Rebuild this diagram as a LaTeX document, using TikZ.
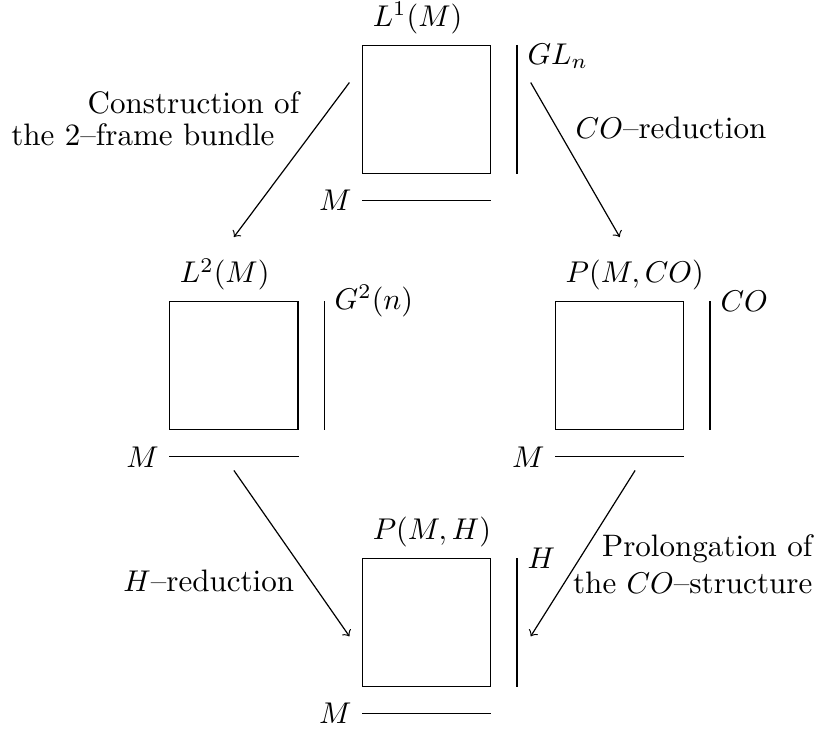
\documentclass[tikz,border=0pt]{standalone}
\usepackage{amsmath}
\usepackage{tikz}
\usetikzlibrary{positioning,calc}

\begin{document}
\begin{tikzpicture}[
  font=\fontsize{10.35pt}{12.4pt}\selectfont,
  >=to,
  bundle/.style={draw, line width=0.4pt, minimum size=1.5cm, inner sep=0pt},
  totlab/.style={anchor=south west},
  grplab/.style={anchor=west},
  baselab/.style={anchor=east},
  fibre/.style={line width=0.4pt},
  flow/.style={->, line width=0.4pt},
]
\useasboundingbox (0,0) rectangle (9.641,8.564);

%% ── Frame bundle L^1(M) ─────────────────────────────────────────────────────
\node[bundle] (L1) at (5.0,7.28) {};
\node[totlab] (L1tot) at (L1.north west) {$L^1(M)$};
\coordinate (L1ft) at ([xshift=0.3cm]L1.north east);
\coordinate (L1fb) at ([xshift=0.3cm]L1.south east);
\draw[fibre] (L1ft) -- (L1fb);
\node[grplab, yshift=-0.13cm] (L1grp) at (L1ft) {$GL_n$};
\coordinate (L1bl) at ([yshift=-0.31cm]L1.south west);
\coordinate (L1br) at ([yshift=-0.31cm]L1.south east);
\node[baselab] (L1M) at (L1bl) {$M$};
\draw[fibre] (L1M.east) -- (L1br);

%% ── 2-frame bundle L^2(M) ───────────────────────────────────────────────────
\node[bundle] (L2) at (2.74,4.28) {};
\node[totlab] (L2tot) at (L2.north west) {$L^2(M)$};
\coordinate (L2ft) at ([xshift=0.3cm]L2.north east);
\coordinate (L2fb) at ([xshift=0.3cm]L2.south east);
\draw[fibre] (L2ft) -- (L2fb);
\node[grplab] (L2grp) at (L2ft) {$G^2(n)$};
\coordinate (L2bl) at ([yshift=-0.31cm]L2.south west);
\coordinate (L2br) at ([yshift=-0.31cm]L2.south east);
\node[baselab] (L2M) at (L2bl) {$M$};
\draw[fibre] (L2M.east) -- (L2br);

%% ── CO-structure P(M,CO) ────────────────────────────────────────────────────
\node[bundle] (PCO) at (7.26,4.28) {};
\node[totlab] (PCOtot) at (PCO.north west) {$P(M,CO)$};
\coordinate (PCOft) at ([xshift=0.3cm]PCO.north east);
\coordinate (PCOfb) at ([xshift=0.3cm]PCO.south east);
\draw[fibre] (PCOft) -- (PCOfb);
\node[grplab] (PCOgrp) at (PCOft) {$CO$};
\coordinate (PCObl) at ([yshift=-0.31cm]PCO.south west);
\coordinate (PCObr) at ([yshift=-0.31cm]PCO.south east);
\node[baselab] (PCOM) at (PCObl) {$M$};
\draw[fibre] (PCOM.east) -- (PCObr);

%% ── H-structure P(M,H) ──────────────────────────────────────────────────────
\node[bundle] (PH) at (5.0,1.27) {};
\node[totlab] (PHtot) at (PH.north west) {$P(M,H)$};
\coordinate (PHft) at ([xshift=0.3cm]PH.north east);
\coordinate (PHfb) at ([xshift=0.3cm]PH.south east);
\draw[fibre] (PHft) -- (PHfb);
\node[grplab] (PHgrp) at (PHft) {$H$};
\coordinate (PHbl) at ([yshift=-0.31cm]PH.south west);
\coordinate (PHbr) at ([yshift=-0.31cm]PH.south east);
\node[baselab] (PHM) at (PHbl) {$M$};
\draw[fibre] (PHM.east) -- (PHbr);

%% ── Arrows ──────────────────────────────────────────────────────────────────
\draw[flow] ([shift={(-0.15,-0.44)}]L1.north west) -- ([yshift=0.75cm]L2.north);
\draw[flow] ([shift={(0.46,-0.44)}]L1.north east) -- ([yshift=0.75cm]PCO.north);
\draw[flow] ([yshift=-0.47cm]L2.south) -- ([shift={(-0.15,-0.16)}]PH.west);
\draw[flow] ([shift={(0.18,-0.47)}]PCO.south) -- ([shift={(0.46,-0.16)}]PH.east);

%% ── Arrow labels ────────────────────────────────────────────────────────────
\node[anchor=base east] (constr) at (3.63,6.865)
  {\shortstack[r]{Construction of\\the 2--frame bundle\hspace*{0.29cm}}};
\node[anchor=base west] (cored) at (6.62,6.94) {$CO$--reduction};
\node[anchor=base east] (hred) at (3.57,1.63) {$H$--reduction};
\node[anchor=base east] (prolong) at (9.64,1.617)
  {\shortstack[r]{Prolongation of\\the $CO$--structure}};

\end{tikzpicture}
\end{document}
